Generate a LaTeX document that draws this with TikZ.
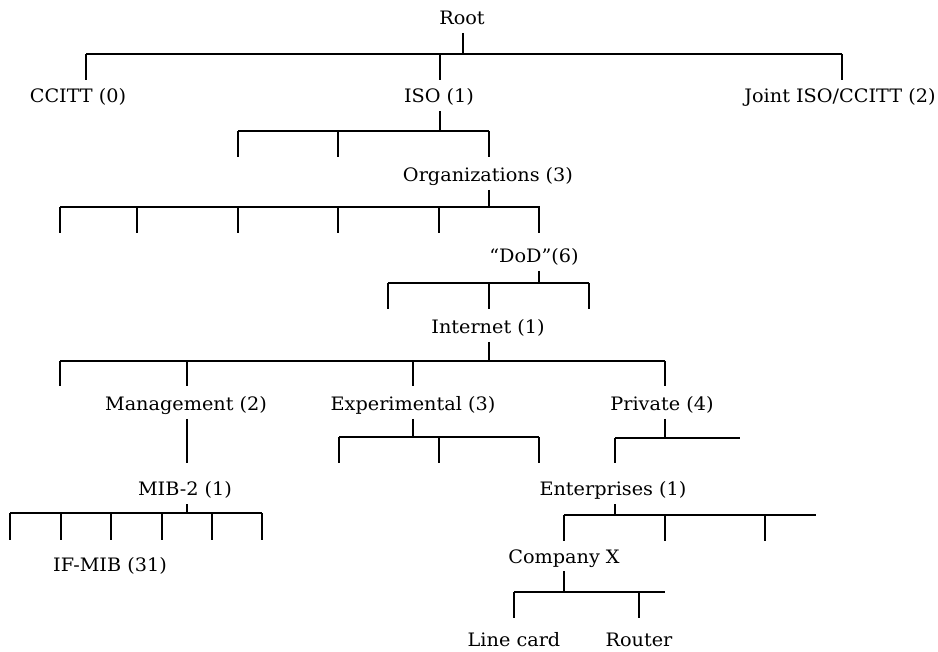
\documentclass[tikz,border=0pt]{standalone}
\usepackage{fontspec}
\setmainfont[FakeStretch=1.04]{DejaVu Serif}
\begin{document}
\begin{tikzpicture}[x=1pt,y=-1pt,
  lbl/.style={font=\fontsize{18.5}{21}\selectfont, anchor=base, inner sep=0pt,
              outer sep=4pt, text height=13pt, text depth=4pt},
  bar/.style={line width=2.2pt},
  drop/.style={line width=1.1pt}]
\useasboundingbox (0,0) rectangle (938,652);

% labels of the object identifier tree
\node[lbl] (root)     at (462,25)  {Root};
\node[lbl] (ccitt)    at (78,103)  {CCITT (0)};
\node[lbl] (iso)      at (439,103) {ISO (1)};
\node[lbl] (joint)    at (840,103) {Joint ISO/CCITT (2)};
\node[lbl] (org)      at (488,182) {Organizations (3)};
\node[lbl] (dod)      at (534,263) {“DoD”(6)};
\node[lbl] (internet) at (488,334) {Internet (1)};
\node[lbl] (mgmt)     at (186,411) {Management (2)};
\node[lbl] (exper)    at (413,411) {Experimental (3)};
\node[lbl] (priv)     at (662,411) {Private (4)};
\node[lbl] (mib)      at (185,496) {MIB-2 (1)};
\node[lbl] (ent)      at (613,496) {Enterprises (1)};
\node[lbl] (ifmib)    at (110,571) {IF-MIB (31)};
\node[lbl] (compx)    at (564,563) {Company X};
\node[lbl] (linecard) at (514,646) {Line card};
\node[lbl] (router)   at (639,646) {Router};

% Root
\coordinate (b1l) at (86,54); \coordinate (b1r) at (842,54); \coordinate (b1j) at (463,54);
\draw[bar] (b1l) -- (b1r);
\draw[drop] (b1j |- root.south) -- (b1j);
\foreach \x [count=\i] in {86,440,842}
  {\coordinate (b1d\i) at (\x,80); \draw[drop] (b1d\i |- b1l) -- (b1d\i);}

% ISO
\coordinate (b2l) at (238,131); \coordinate (b2r) at (489,131); \coordinate (b2j) at (440,131);
\draw[bar] (b2l) -- (b2r);
\draw[drop] (b2j |- iso.south) -- (b2j);
\foreach \x [count=\i] in {238,338,489}
  {\coordinate (b2d\i) at (\x,157); \draw[drop] (b2d\i |- b2l) -- (b2d\i);}

% Organizations
\coordinate (b3l) at (60,207); \coordinate (b3r) at (540,207); \coordinate (b3j) at (489,207);
\draw[bar] (b3l) -- (b3r);
\draw[drop] (b3j |- org.south) -- (b3j);
\foreach \x [count=\i] in {60,137,238,338,439,539}
  {\coordinate (b3d\i) at (\x,233); \draw[drop] (b3d\i |- b3l) -- (b3d\i);}

% DoD
\coordinate (b4l) at (388,283); \coordinate (b4r) at (589,283); \coordinate (b4j) at (539,283);
\draw[bar] (b4l) -- (b4r);
\draw[drop] (b4j |- dod.south) -- (b4j);
\foreach \x [count=\i] in {388,489,589}
  {\coordinate (b4d\i) at (\x,309); \draw[drop] (b4d\i |- b4l) -- (b4d\i);}

% Internet
\coordinate (b5l) at (60,361); \coordinate (b5r) at (665,361); \coordinate (b5j) at (489,361);
\draw[bar] (b5l) -- (b5r);
\draw[drop] (b5j |- internet.south) -- (b5j);
\foreach \x [count=\i] in {60,187,413,665}
  {\coordinate (b5d\i) at (\x,386); \draw[drop] (b5d\i |- b5l) -- (b5d\i);}

% Management
\coordinate (m1) at (187,463);
\draw[drop] (m1 |- mgmt.south) -- (m1);

% Experimental
\coordinate (b7l) at (339,437); \coordinate (b7r) at (539,437); \coordinate (b7j) at (413,437);
\draw[bar] (b7l) -- (b7r);
\draw[drop] (b7j |- exper.south) -- (b7j);
\foreach \x [count=\i] in {339,439,539}
  {\coordinate (b7d\i) at (\x,463); \draw[drop] (b7d\i |- b7l) -- (b7d\i);}

% Private
\coordinate (b8l) at (615,438); \coordinate (b8r) at (740,438); \coordinate (b8j) at (665,438);
\draw[bar] (b8l) -- (b8r);
\draw[drop] (b8j |- priv.south) -- (b8j);
\coordinate (b8d1) at (615,463); \draw[drop] (b8d1 |- b8l) -- (b8d1);

% MIB-2
\coordinate (b9l) at (10,513); \coordinate (b9r) at (262,513); \coordinate (b9j) at (187,513);
\draw[bar] (b9l) -- (b9r);
\draw[drop] (b9j |- mib.south) -- (b9j);
\foreach \x [count=\i] in {10,61,111,162,212,262}
  {\coordinate (b9d\i) at (\x,540); \draw[drop] (b9d\i |- b9l) -- (b9d\i);}

% Enterprises
\coordinate (b10l) at (564,515); \coordinate (b10r) at (816,515); \coordinate (b10j) at (615,515);
\draw[bar] (b10l) -- (b10r);
\draw[drop] (b10j |- ent.south) -- (b10j);
\foreach \x [count=\i] in {564,665,765}
  {\coordinate (b10d\i) at (\x,541); \draw[drop] (b10d\i |- b10l) -- (b10d\i);}

% Company X
\coordinate (b11l) at (514,592); \coordinate (b11r) at (665,592); \coordinate (b11j) at (564,592);
\draw[bar] (b11l) -- (b11r);
\draw[drop] (b11j |- compx.south) -- (b11j);
\foreach \x [count=\i] in {514,639}
  {\coordinate (b11d\i) at (\x,618); \draw[drop] (b11d\i |- b11l) -- (b11d\i);}
\end{tikzpicture}
\end{document}
